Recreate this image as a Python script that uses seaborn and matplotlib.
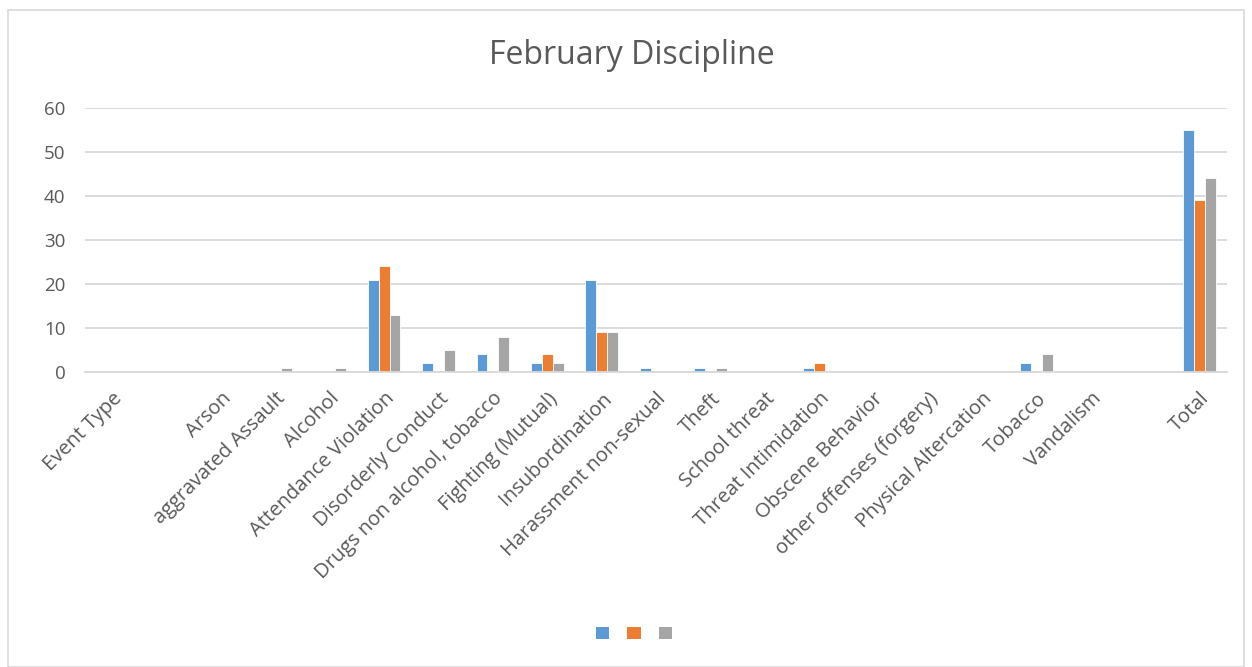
import matplotlib
matplotlib.use("Agg")
import matplotlib.pyplot as plt
from matplotlib.patches import Rectangle, Patch
import seaborn as sns
import pandas as pd

# categories (two blank slots as in the source sheet)
categories = ["Event Type", " ", "Arson", "aggravated Assault", "Alcohol",
              "Attendance Violation", "Disorderly Conduct", "Drugs non alcohol, tobacco",
              "Fighting (Mutual)", "Insubordination", "Harassment non-sexual", "Theft",
              "School threat", "Threat Intimidation", "Obscene Behavior",
              "other offenses (forgery)", "Physical Altercation", "Tobacco", "Vandalism",
              "  ", "Total"]
serie1 = [0, 0, 0, 0, 0, 21, 2, 4, 2, 21, 1, 1, 0, 1, 0, 0, 0, 2, 0, 0, 55]
serie2 = [0, 0, 0, 0, 0, 24, 0, 0, 4, 9, 0, 0, 0, 2, 0, 0, 0, 0, 0, 0, 39]
serie3 = [0, 0, 0, 1, 1, 13, 5, 8, 2, 9, 0, 1, 0, 0, 0, 0, 0, 4, 0, 0, 44]
series_names = ["S1", "S2", "S3"]
cores = ["#5B9BD5", "#ED7D31", "#A5A5A5"]

df = pd.DataFrame({"categoria": categories * 3,
                   "valor": serie1 + serie2 + serie3,
                   "serie": [s for s in series_names for _ in categories]})

sns.set_style("white")
plt.rcParams["font.family"] = ["Open Sans", "DejaVu Sans"]
texto = "#595959"

fig = plt.figure(figsize=(12.52, 6.67), dpi=100)
ax = fig.add_axes([85 / 1252, 1 - 372 / 667, (1227 - 85) / 1252, (372 - 108) / 667])

sns.barplot(data=df, x="categoria", y="valor", hue="serie", order=categories,
            hue_order=series_names, palette=cores, width=0.6, saturation=1,
            edgecolor="white", linewidth=0.6, ax=ax, legend=False)

ax.set_ylim(0, 60)
ax.set_yticks(range(0, 61, 10))
ax.yaxis.grid(True, color="#D9D9D9", linewidth=1.3)
ax.set_axisbelow(True)
for lado in ["left", "right", "top"]:
    ax.spines[lado].set_visible(False)
ax.spines["bottom"].set_color("#D9D9D9")
ax.spines["bottom"].set_linewidth(1.3)
ax.tick_params(axis="both", length=0, colors=texto)
ax.tick_params(axis="y", pad=14, labelsize=13.5)
ax.tick_params(axis="x", pad=12, labelsize=14.5)
ax.set_xlabel("")
ax.set_ylabel("")
plt.setp(ax.get_xticklabels(), rotation=45, ha="right", rotation_mode="anchor")

fig.text(632 / 1252, 1 - 55 / 667, "February Discipline", ha="center", va="center",
         fontsize=23, color=texto)

handles = [Patch(facecolor=c, edgecolor="none") for c in cores]
fig.legend(handles, ["", "", ""], loc="center", bbox_to_anchor=(634 / 1252, 1 - 634 / 667),
           ncol=3, frameon=False, handlelength=0.95, handleheight=0.95,
           columnspacing=1.3, handletextpad=0.0)

# borda do gráfico
fig.patches.append(Rectangle((8 / 1252, 0.0), (1244 - 8) / 1252, 1 - 10 / 667,
                             transform=fig.transFigure, fill=False,
                             edgecolor="#D9D9D9", linewidth=1.2))

fig.savefig("out.png", dpi=100, facecolor="white")
plt.close(fig)
